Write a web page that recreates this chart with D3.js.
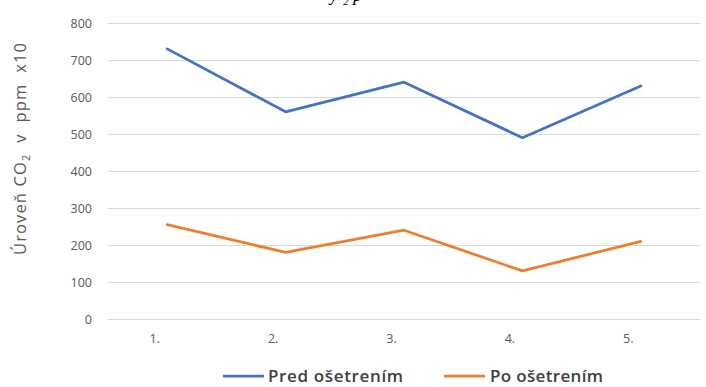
<!DOCTYPE html>
<html>
<head>
<meta charset="utf-8">
<script src="https://cdn.jsdelivr.net/npm/d3@7"></script>
<style>
  html, body { margin: 0; padding: 0; background: #fff; }
  svg { display: block; }
</style>
</head>
<body>
<svg id="chart" width="706" height="387"></svg>
<script>
const categories = ["1.", "2.", "3.", "4.", "5."];
const predValues = [730, 560, 640, 490, 630];
const poValues = [255, 180, 240, 130, 210];
const yTicks = [0, 100, 200, 300, 400, 500, 600, 700, 800];
const seriesNames = ["Pred ošetrením", "Po ošetrením"];
const seriesColors = ["#4472C4", "#ED7D31"];

const svg = d3.select("#chart");
const plotLeft = 108, plotRight = 700, plotTop = 23, plotBottom = 319;

const x = d3.scalePoint().domain(categories).range([plotLeft, plotRight]).padding(0.5);
const y = d3.scaleLinear().domain([0, 800]).range([plotBottom, plotTop]);

// cut-off caption fragment at the top
svg.append("text")
  .attr("x", 330).attr("y", 1)
  .attr("font-family", "Liberation Serif, serif")
  .attr("font-style", "italic")
  .attr("font-size", 18)
  .attr("fill", "#000")
  .text("y \u2082 p");

// gridlines
const yAxis = d3.axisLeft(y).tickValues(yTicks).tickSize(-(plotRight - plotLeft)).tickPadding(16);
const gy = svg.append("g").attr("transform", `translate(${plotLeft},0)`).call(yAxis);
gy.select(".domain").remove();
gy.selectAll(".tick line").attr("stroke", "#d9d9d9").attr("stroke-width", 1);
gy.selectAll(".tick text")
  .attr("font-family", "Open Sans, sans-serif")
  .attr("font-size", 12.5)
  .attr("fill", "#595959");

// x axis labels
const xAxis = d3.axisBottom(x).tickSize(0).tickPadding(15);
const gx = svg.append("g").attr("transform", `translate(-13,${plotBottom})`).call(xAxis);
gx.select(".domain").remove();
gx.selectAll(".tick text")
  .attr("font-family", "Open Sans, sans-serif")
  .attr("font-size", 12.5)
  .attr("fill", "#595959");

// y axis title
const yt = svg.append("text")
  .attr("transform", "translate(26,149) rotate(-90)")
  .attr("text-anchor", "middle")
  .attr("font-family", "Open Sans, sans-serif")
  .attr("font-size", 16.5)
  .attr("fill", "#595959")
  .attr("textLength", 212)
  .attr("lengthAdjust", "spacing");
yt.append("tspan").text("Úroveň CO");
yt.append("tspan").attr("font-size", 11).attr("dy", 4).text("2");
yt.append("tspan").attr("dy", -4).text("\u00a0 v \u00a0ppm \u00a0x10");

// lines
const line = d3.line().x((d, i) => x(categories[i])).y(d => y(d));
[predValues, poValues].forEach((vals, k) => {
  svg.append("path")
    .datum(vals)
    .attr("d", line)
    .attr("fill", "none")
    .attr("stroke", seriesColors[k])
    .attr("stroke-width", 2.75)
    .attr("stroke-linejoin", "round")
    .attr("stroke-linecap", "round");
});

// legend
const legendItems = [
  { x1: 223, x2: 264, tx: 268, len: 135 },
  { x1: 444, x2: 485, tx: 490, len: 113 }
];
const ly = 376;
legendItems.forEach((it, k) => {
  svg.append("line")
    .attr("x1", it.x1).attr("x2", it.x2)
    .attr("y1", ly).attr("y2", ly)
    .attr("stroke", seriesColors[k]).attr("stroke-width", 2.75);
  svg.append("text")
    .attr("x", it.tx).attr("y", ly + 6)
    .attr("font-family", "Open Sans, sans-serif")
    .attr("font-weight", 600)
    .attr("font-size", 17)
    .attr("fill", "#404040")
    .attr("textLength", it.len)
    .attr("lengthAdjust", "spacing")
    .text(seriesNames[k]);
});
</script>
</body>
</html>
